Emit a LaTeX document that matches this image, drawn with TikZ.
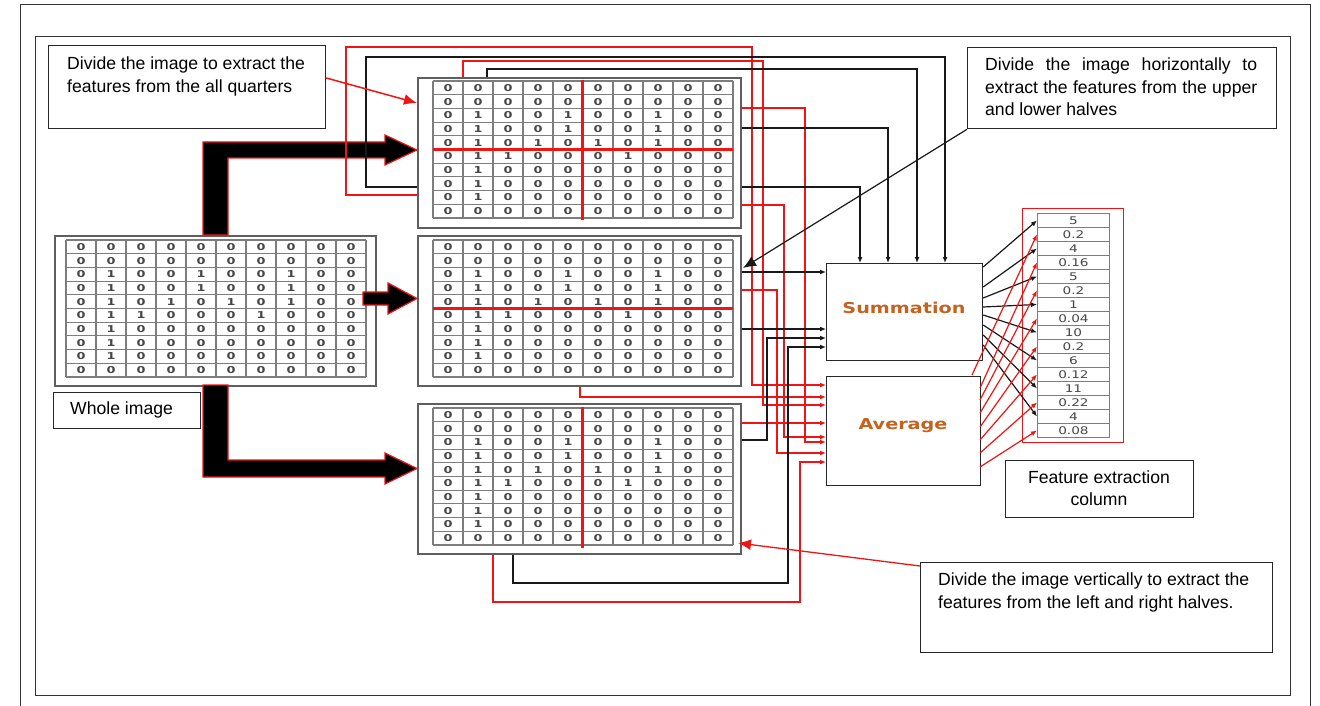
\documentclass[tikz,border=0pt]{standalone}
\usepackage{fontspec}
\usepackage{graphicx}
\setmainfont{Liberation Sans}
\newfontfamily\dvs{DejaVu Sans}
\usetikzlibrary{arrows.meta}
\definecolor{sumorange}{RGB}{196,98,30}
\definecolor{gridgray}{RGB}{125,125,125}
\definecolor{boxgray}{RGB}{95,95,95}
\definecolor{myred}{RGB}{240,20,20}

\newcommand{\digitgrid}[3]{%
  \foreach \rowvals [count=\r] in {{0,0,0,0,0,0,0,0,0,0},{0,0,0,0,0,0,0,0,0,0},{0,1,0,0,1,0,0,1,0,0},{0,1,0,0,1,0,0,1,0,0},{0,1,0,1,0,1,0,1,0,0},{0,1,1,0,0,0,1,0,0,0},{0,1,0,0,0,0,0,0,0,0},{0,1,0,0,0,0,0,0,0,0},{0,1,0,0,0,0,0,0,0,0},{0,0,0,0,0,0,0,0,0,0}}{%
    \foreach \v [count=\c] in \rowvals {%
      \node[digit] (#3-\r-\c) at ({#1+30*\c-15},{#2+13.7*\r-6.85}) {\scalebox{1.35}[1]{\v}};
    }
  }
  \foreach \i in {0,...,10} {\draw[gridline] ({#1+30*\i},#2) -- ({#1+30*\i},{#2+137});}
  \foreach \i in {0,...,10} {\draw[gridline] (#1,{#2+13.7*\i}) -- ({#1+300},{#2+13.7*\i});}
}

\begin{document}
\begin{tikzpicture}[x=1pt,y=-1pt,
  frame/.style={draw=black!80, line width=1pt},
  txtbox/.style={draw=black!85, line width=1.3pt, anchor=north west, inner sep=0pt},
  gbox/.style={draw=boxgray, line width=1.6pt, anchor=north west, inner sep=0pt},
  opbox/.style={draw=black!85, line width=1.2pt, anchor=north west, inner sep=0pt},
  gridline/.style={draw=gridgray, line width=1.1pt},
  digit/.style={font=\dvs\bfseries\fontsize{9.5}{9.5}\selectfont, text=black!72, inner sep=0pt},
  cell/.style={draw=gridgray, line width=0.9pt, minimum width=72pt, minimum height=14pt, inner sep=0pt, anchor=north west, font=\dvs\fontsize{10.5}{10.5}\selectfont, text=black!72},
  rline/.style={draw=myred, line width=1.5pt},
  bline/.style={draw=black!90, line width=1.5pt},
  rarr/.style={rline, -{Latex[length=6pt,width=5pt]}},
  barr/.style={bline, -{Latex[length=6pt,width=5pt]}},
  rarrs/.style={draw=myred, line width=1.2pt, -{Latex[length=6pt,width=5pt]}},
  barrs/.style={draw=black!90, line width=1.2pt, -{Latex[length=6pt,width=5pt]}},
  bigarrow/.style={fill=black, draw=myred, line width=1.2pt},
  divline/.style={draw=myred, line width=3pt},
  labeltext/.style={font=\fontsize{17.6}{22.5}\selectfont, align=left, inner sep=0pt, anchor=north west},
  optext/.style={font=\dvs\bfseries\fontsize{15}{15}\selectfont, text=sumorange, inner sep=0pt}
]
\useasboundingbox (0,0) rectangle (1320,706);
\fill[white] (0,0) rectangle (1320,706);

% page frames
\draw[frame] (20,706) -- (20,5) -- (1310,5) -- (1310,706);
\draw[frame] (35,37) rectangle (1290,695);

% grid boxes
\node[gbox, minimum width=321pt, minimum height=150pt] (lg) at (54,235) {};
\node[gbox, minimum width=323pt, minimum height=150pt] (tg) at (417,77) {};
\node[gbox, minimum width=323pt, minimum height=150pt] (mg) at (417,235) {};
\node[gbox, minimum width=323pt, minimum height=150pt] (bg) at (417,403) {};

\digitgrid{66}{240}{L}
\digitgrid{433}{81}{T}
\digitgrid{433}{240}{M}
\digitgrid{433}{408}{B}

% red dividing lines
\draw[divline] (582,80) -- (582,220);
\draw[divline, line width=2.6pt] (433,149.5) -- (733,149.5);
\draw[divline, line width=2.6pt] (433,308.5) -- (733,308.5);
\draw[divline] (582,407) -- (582,548);

% big arrows
\filldraw[bigarrow] (203,235) -- (203,142) -- (385,142) -- (385,135) -- (417,150) -- (385,165) -- (385,158) -- (228,158) -- (228,235) -- cycle;
\filldraw[bigarrow] (363,292) -- (388,292) -- (388,283) -- (417,298.5) -- (388,314) -- (388,305) -- (363,305) -- cycle;
\filldraw[bigarrow] (203,385) -- (228,385) -- (228,460) -- (385,460) -- (385,453) -- (417,468.5) -- (385,484) -- (385,477) -- (203,477) -- cycle;

% operation boxes
\node[opbox, minimum width=156pt, minimum height=97pt] (sum) at (826,263) {};
\node[opbox, minimum width=154pt, minimum height=109pt] (avg) at (826,376) {};
\node[optext] (sumtxt) at (904,308) {\scalebox{1.28}[1]{Summation}};
\node[optext] (avgtxt) at (903,426) {\scalebox{1.28}[1]{Average}};

% feature column
\node[draw=myred, line width=1.2pt, anchor=north west, minimum width=101pt, minimum height=234pt, inner sep=0pt] (col) at (1022,208) {};
\foreach \val [count=\i] in {5,0.2,4,0.16,5,0.2,1,0.04,10,0.2,6,0.12,11,0.22,4,0.08} {
  \node[cell] (c\i) at (1037,{213+14*(\i-1)}) {\scalebox{1.3}[1]{\val}};
}

% red connectors into Average
\draw[rarr] (tg.west |- 0,195) -- (346,195) -- (346,47) -- (752,47) -- (752,385) -- (avg.west |- 0,385);
\draw[rarr] (tg.north -| 463,0) -- (463,61) -- (763,61) -- (763,405) -- (avg.west |- 0,405);
\draw[rarr] (tg.east |- 0,108) -- (805,108) -- (805,442) -- (avg.west |- 0,442);
\draw[rarr] (tg.east |- 0,205) -- (784,205) -- (784,437) -- (avg.west |- 0,437);
\draw[rarr] (mg.east |- 0,290) -- (777,290) -- (777,453) -- (avg.west |- 0,453);
\draw[rarr] (mg.south -| 580,0) -- (580,397) -- (avg.west |- 0,397);
\draw[rarr] (bg.east |- 0,423) -- (avg.west |- 0,423);
\draw[rarr] (bg.south -| 493,0) -- (493,602) -- (800,602) -- (800,462) -- (avg.west |- 0,462);

% black connectors into Summation
\draw[barr] (tg.west |- 0,187) -- (366,187) -- (366,57) -- (945,57) -- (sum.north -| 945,0);
\draw[barr] (tg.north -| 487,0) -- (487,69) -- (917,69) -- (sum.north -| 917,0);
\draw[barr] (tg.east |- 0,128) -- (888,128) -- (sum.north -| 888,0);
\draw[barr] (tg.east |- 0,187) -- (860,187) -- (sum.north -| 860,0);
\draw[barr] (mg.east |- 0,272) -- (sum.west |- 0,272);
\draw[barr] (mg.east |- 0,329) -- (sum.west |- 0,329);
\draw[barr] (bg.east |- 0,440) -- (767,440) -- (767,338) -- (sum.west |- 0,338);
\draw[barr] (bg.south -| 513,0) -- (513,583) -- (788,583) -- (788,347) -- (sum.west |- 0,347);

% outputs to feature column
\foreach \ys [count=\k] in {267,287,298,307,315,325,335,345} {
  \pgfmathtruncatemacro\idx{2*\k-1}
  \draw[barrs] (sum.east |- 0,\ys) -- (c\idx.west);
}
\foreach \xs/\ys [count=\k] in {972/375,980/388,980/400,980/413,980/427,980/440,980/453,980/467} {
  \pgfmathtruncatemacro\idx{2*\k}
  \draw[rarrs] (\xs,\ys) -- (c\idx.west);
}

% text boxes
\node[txtbox, minimum width=277pt, minimum height=83pt] (t1) at (48,45) {};
\node[labeltext] (t1txt) at (67,57) {Divide the image to extract the\\features from the all quarters};

\node[txtbox, minimum width=147pt, minimum height=36pt] (t3) at (53,392) {};
\node[labeltext, anchor=west] (t3txt) at (70,410) {Whole image};

\node[txtbox, minimum width=309pt, minimum height=81pt] (t2) at (967,47) {};
\node[labeltext, text width=272pt, align=justify] (t2txt) at (985,58) {\hyphenpenalty=10000 Divide the image horizontally to\linebreak extract the features from the upper\linebreak and lower halves};

\node[txtbox, minimum width=188pt, minimum height=57pt] (t4) at (1005,460) {};
\node[labeltext, anchor=center, align=center] (t4txt) at (1099,488) {Feature extraction\\column};

\node[txtbox, minimum width=352pt, minimum height=90pt] (t5) at (920,562) {};
\node[labeltext] (t5txt) at (938,573) {Divide the image vertically to extract the\\features from the left and right halves.};

% callout arrows
\draw[rline, -{Latex[length=13pt,width=11pt]}] (t1.east |- 0,78) -- (tg.west |- 0,103);
\coordinate (hpoint) at (743,268);
\draw[bline, line width=1.2pt, -{Latex[length=13pt,width=11pt]}] (t2.south west) -- (hpoint);
\coordinate (vpoint) at (738,543);
\draw[rline, line width=1.3pt, -{Latex[length=13pt,width=11pt]}] (t5.north west) ++(0,4) -- (vpoint);

\end{tikzpicture}
\end{document}
